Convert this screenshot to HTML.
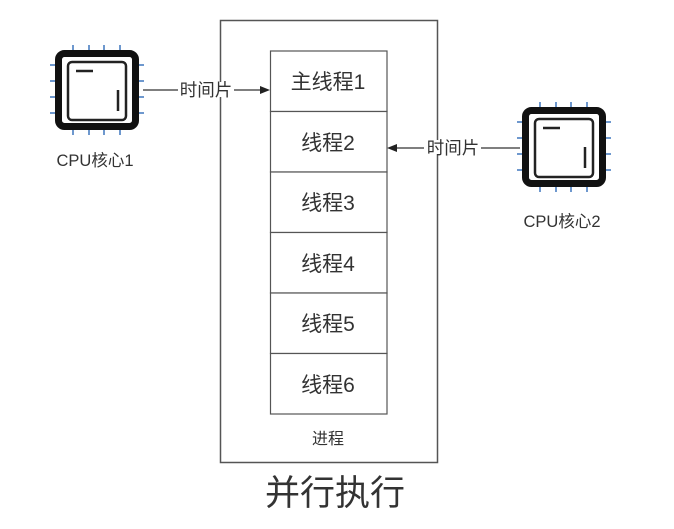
<!DOCTYPE html>
<html><head><meta charset="utf-8"><style>
html,body{margin:0;padding:0;background:#fff;}
svg{display:block;}
text{font-family:"Liberation Sans","Noto Sans CJK SC",sans-serif;fill:#333;}
</style></head><body>
<svg width="674" height="529" viewBox="0 0 674 529" xmlns="http://www.w3.org/2000/svg">
<defs>
<g id="cpu">
  <g stroke="#4a7fc1" stroke-width="1.6">
    <line x1="73" y1="45" x2="73" y2="51"/><line x1="89" y1="45" x2="89" y2="51"/><line x1="104" y1="45" x2="104" y2="51"/><line x1="120" y1="45" x2="120" y2="51"/>
    <line x1="73" y1="129" x2="73" y2="135"/><line x1="89" y1="129" x2="89" y2="135"/><line x1="104" y1="129" x2="104" y2="135"/><line x1="120" y1="129" x2="120" y2="135"/>
    <line x1="50" y1="65" x2="56" y2="65"/><line x1="50" y1="81" x2="56" y2="81"/><line x1="50" y1="97" x2="56" y2="97"/><line x1="50" y1="113" x2="56" y2="113"/>
    <line x1="138" y1="65" x2="144" y2="65"/><line x1="138" y1="81" x2="144" y2="81"/><line x1="138" y1="97" x2="144" y2="97"/><line x1="138" y1="113" x2="144" y2="113"/>
  </g>
  <rect x="58.5" y="53.5" width="77" height="73" rx="6" fill="#fff" stroke="#111" stroke-width="7"/>
  <rect x="68" y="62" width="58" height="58" rx="4" fill="none" stroke="#222" stroke-width="2.5"/>
  <line x1="76" y1="71" x2="93" y2="71" stroke="#222" stroke-width="2.5"/>
  <line x1="118" y1="90" x2="118" y2="111" stroke="#222" stroke-width="2.5"/>
</g>
</defs>
<use href="#cpu"/>
<use href="#cpu" transform="translate(467,57)"/>
<text x="95" y="166" font-size="16.5" text-anchor="middle">CPU核心1</text>
<text x="562" y="227" font-size="16.5" text-anchor="middle">CPU核心2</text>

<rect x="220.5" y="20.5" width="217" height="442" fill="none" stroke="#555" stroke-width="1.5"/>
<g fill="#fff" stroke="#555" stroke-width="1.2">
  <rect x="270.5" y="51" width="116.5" height="60.5"/>
  <rect x="270.5" y="111.5" width="116.5" height="60.5"/>
  <rect x="270.5" y="172" width="116.5" height="60.5"/>
  <rect x="270.5" y="232.5" width="116.5" height="60.5"/>
  <rect x="270.5" y="293" width="116.5" height="60.5"/>
  <rect x="270.5" y="353.5" width="116.5" height="60.5"/>
</g>
<g font-size="21" text-anchor="middle">
  <text x="328" y="89">主线程1</text>
  <text x="328" y="150">线程2</text>
  <text x="328" y="210">线程3</text>
  <text x="328" y="271">线程4</text>
  <text x="328" y="331">线程5</text>
  <text x="328" y="392">线程6</text>
</g>
<text x="328" y="444" font-size="16" text-anchor="middle">进程</text>
<text x="335" y="505" font-size="35" text-anchor="middle">并行执行</text>

<line x1="143" y1="90" x2="178" y2="90" stroke="#333" stroke-width="1.3"/>
<line x1="234" y1="90" x2="262" y2="90" stroke="#333" stroke-width="1.3"/>
<polygon points="270,90 260,86 260,94" fill="#222"/>
<rect x="208" y="82" width="18" height="15" fill="#fff"/>
<text x="206" y="96" font-size="17.5" text-anchor="middle">时间片</text>

<line x1="395" y1="148" x2="424" y2="148" stroke="#333" stroke-width="1.3"/>
<line x1="481" y1="148" x2="520" y2="148" stroke="#333" stroke-width="1.3"/>
<polygon points="387,148 397,144 397,152" fill="#222"/>
<rect x="428" y="140" width="18" height="15" fill="#fff"/>
<text x="453" y="154" font-size="17.5" text-anchor="middle">时间片</text>
</svg>
</body></html>
